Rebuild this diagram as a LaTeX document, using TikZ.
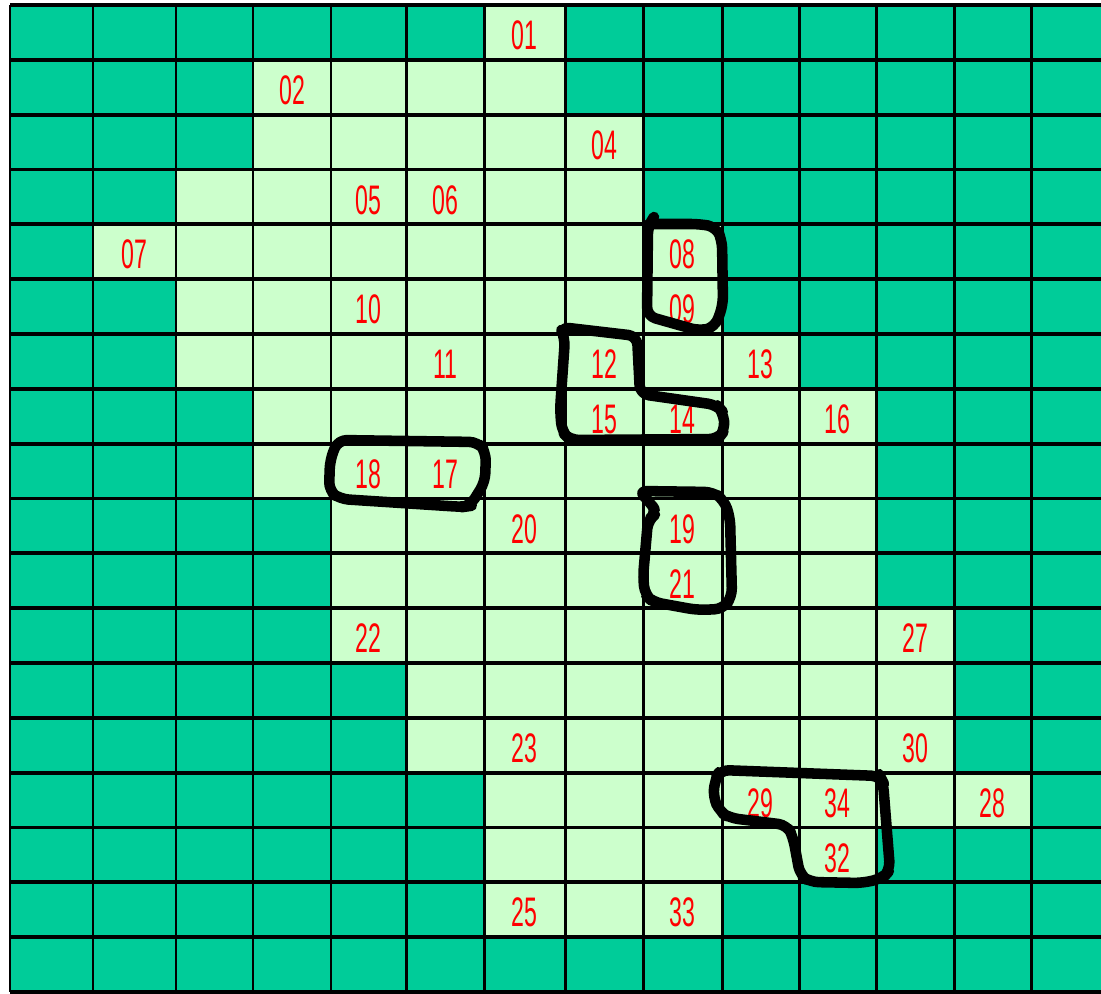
\documentclass[tikz,border=0pt]{standalone}
\usepackage{fontspec}
\usepackage{tikz}
\usetikzlibrary{positioning,calc}
\newfontfamily\cellfont[FakeStretch=0.56]{Liberation Sans}
\definecolor{field}{HTML}{00CC99}
\definecolor{pale}{HTML}{CCFFCC}
\definecolor{numred}{HTML}{FF0000}

\begin{document}
\begin{tikzpicture}[
    x=0.02cm, y=-0.02cm,
    hline/.style={line width=2.2pt, black},
    vline/.style={line width=1.7pt, black},
    cellnum/.style={text=numred, font=\cellfont\fontsize{23.5}{24}\selectfont,
                    inner sep=0pt, yshift=-0.06cm},
    marker/.style={line width=6pt, black, rounded corners=5pt,
                   line join=round, line cap=round},
]
\useasboundingbox (0,0) rectangle (1101,993);
\clip (0,0) rectangle (1101,993);
\def\colx{{10,93,176,253,331,406,484,565,643,722,799,876,954,1031,1109}}
\def\rowh{54.83}

\fill[field] (10,5) rectangle (1109,992);
\foreach \r/\a/\b in {0/6/6, 1/3/6, 2/3/7, 3/2/7, 4/1/8, 5/2/8, 6/2/9,
                      7/3/10, 8/3/10, 9/4/10, 10/4/10, 11/4/11, 12/5/11,
                      13/5/11, 14/6/12, 15/6/10, 16/6/8} {
  \pgfmathsetmacro{\xa}{\colx[\a]}
  \pgfmathsetmacro{\xb}{\colx[\b+1]}
  \fill[pale] (\xa,{5+\rowh*\r}) rectangle (\xb,{5+\rowh*(\r+1)});
}

\foreach \i in {0,...,14} {
  \pgfmathsetmacro{\xx}{\colx[\i]}
  \draw[vline] (\xx,5) -- (\xx,992);
}
\foreach \r in {0,...,18}
  \draw[hline] (10,{5+\rowh*\r}) -- (1109,{5+\rowh*\r});

\foreach \t/\c/\r in {01/6/0, 02/3/1, 04/7/2, 05/4/3, 06/5/3, 07/1/4,
                      08/8/4, 09/8/5, 10/4/5, 11/5/6, 12/7/6, 13/9/6,
                      15/7/7, 14/8/7, 16/10/7, 18/4/8, 17/5/8, 20/6/9,
                      19/8/9, 21/8/10, 22/4/11, 27/11/11, 23/6/13, 30/11/13,
                      29/9/14, 34/10/14, 28/12/14, 32/10/15, 25/6/16, 33/8/16} {
  \pgfmathsetmacro{\xl}{\colx[\c]}
  \pgfmathsetmacro{\xr}{\colx[\c+1]}
  \node[cellnum] (n\t) at ({(\xl+\xr)/2},{5+\rowh*(\r+0.5)}) {\t};
}

\draw[marker] (654,217) -- (648,225) -- (647,316) -- (700,331) -- (715,327)
  -- (723,305) -- (722,240) -- (716,227) -- (700,224) -- (649,224);
\draw[marker] (560,327) -- (637,336) -- (640,394) -- (717,405) -- (723,412)
  -- (725,430) -- (718,439) -- (570,440) -- (562,432) -- (560,410)
  -- (565,338) -- cycle;
\draw[marker] (638,491) -- (713,492) -- (724,500) -- (730,517) -- (732,597)
  -- (723,609) -- (697,610) -- (653,602) -- (645,595) -- (643,577)
  -- (648,520) -- (657,513) -- (650,502) -- cycle;
\draw[marker] (338,440) -- (478,442) -- (486,452) -- (485,482) -- (470,506)
  -- (463,507) -- (340,499) -- (329,491) -- (330,460) -- cycle;
\draw[marker] (720,770) -- (880,776) -- (883,782) -- (890,870) -- (883,878)
  -- (863,883) -- (810,882) -- (800,875) -- (793,837) -- (787,825)
  -- (730,818) -- (720,812) -- (713,797) -- (715,780) -- cycle;
\end{tikzpicture}
\end{document}
